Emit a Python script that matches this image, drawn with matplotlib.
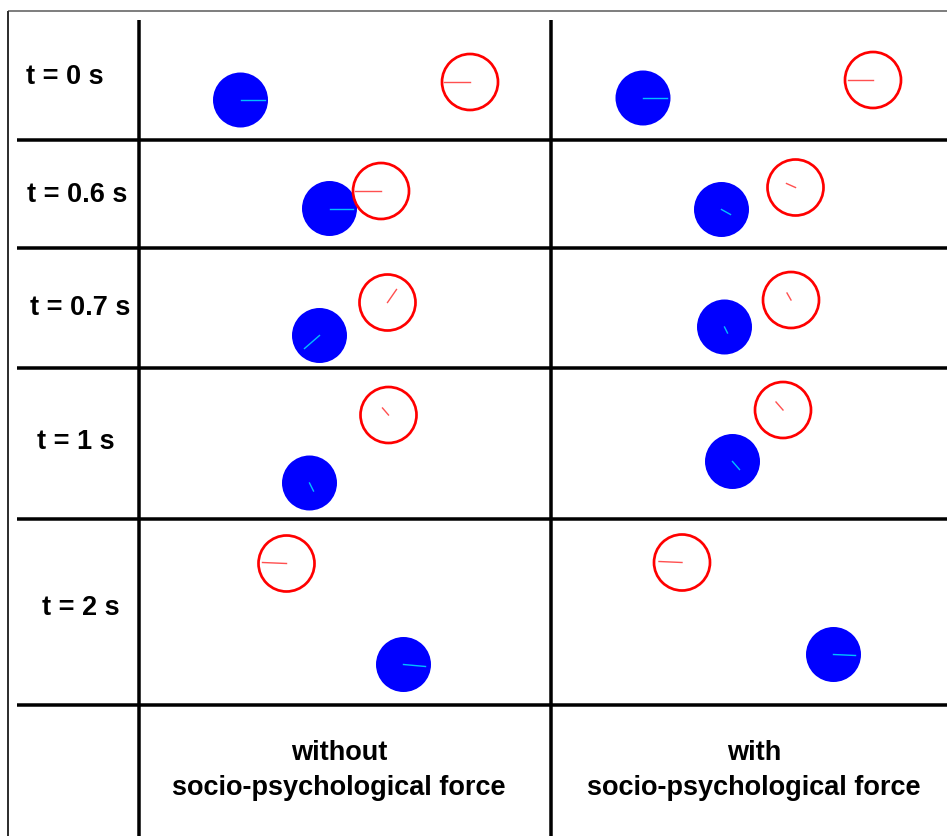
import matplotlib.pyplot as plt
from matplotlib.patches import Circle

plt.rcParams['font.family'] = ['Liberation Sans', 'DejaVu Sans']

# row labels and their positions (pixel space, y down)
time_labels = ['t = 0 s', 't = 0.6 s', 't = 0.7 s', 't = 1 s', 't = 2 s']
label_x = [65, 77, 80, 76, 81]
label_y = [77, 195, 308, 442, 608]

col_top = ['without', 'with']
col_bottom = ['socio-psychological force', 'socio-psychological force']
col_x = [339, 754]

# agent positions and heading vectors, panel without force
blue_without = [(240.5, 100), (329.5, 208.5), (319.5, 335.5), (309.5, 483), (403.5, 664.5)]
blue_head_without = [(24, 0), (23, 0), (-15, 13), (4, 8), (22, 2)]
red_without = [(470, 82), (381, 191), (387.5, 302.5), (388.5, 415), (286.5, 563.5)]
red_head_without = [(-26, 0), (-26, 0), (9, -13), (-6, -7), (-24, -1)]

# panel with force
blue_with = [(643, 98), (721.5, 209.5), (724.5, 327), (732.5, 461.5), (833.5, 654.5)]
blue_head_with = [(24, 0), (9, 5), (3, 6), (7, 8), (22, 1)]
red_with = [(873, 80), (795.5, 187.5), (791, 300), (783, 410), (682, 562.5)]
red_head_with = [(-25, 0), (-9, -4), (-4, -7), (-7, -8), (-23, -1)]

row_lines = [140, 248, 368, 519, 705]
col_lines = [139, 551]

W, H = 947, 836
fig = plt.figure(figsize=(W / 100, H / 100), dpi=100)
ax = fig.add_axes([0, 0, 1, 1])
ax.set_xlim(0, W)
ax.set_ylim(H, 0)
ax.axis('off')

px = 0.72  # points per pixel

# outer frame
ax.plot([8, W], [11, 11], color='#808080', lw=2 * px, solid_capstyle='butt')
ax.plot([8, 8], [11, H], color='#303030', lw=2 * px, solid_capstyle='butt')

for y in row_lines:
    ax.plot([17, W], [y, y], color='black', lw=3.5 * px, solid_capstyle='butt')
for x in col_lines:
    ax.plot([x, x], [20, H], color='black', lw=3.5 * px, solid_capstyle='butt')


def draw_agents(blue, blue_head, red, red_head):
    for (x, y), (dx, dy) in zip(blue, blue_head):
        ax.add_patch(Circle((x, y), 27.5, facecolor='#0000ff', edgecolor='none'))
        ax.plot([x, x + dx], [y, y + dy], color='#00c0ff', lw=1.4 * px)
    for (x, y), (dx, dy) in zip(red, red_head):
        ax.add_patch(Circle((x, y), 28, facecolor='none', edgecolor='#ff0000', lw=2.7 * px))
        ax.plot([x, x + dx], [y, y + dy], color='#ff5050', lw=1.4 * px)


draw_agents(blue_without, blue_head_without, red_without, red_head_without)
draw_agents(blue_with, blue_head_with, red_with, red_head_with)

for lab, x, y in zip(time_labels, label_x, label_y):
    ax.text(x, y, lab, ha='center', va='center', fontsize=19.5, fontweight='bold')

for top, bottom, x in zip(col_top, col_bottom, col_x):
    ax.text(x, 753, top, ha='center', va='center', fontsize=19.5, fontweight='bold')
    ax.text(x, 788, bottom, ha='center', va='center', fontsize=19.5, fontweight='bold')

fig.savefig('out.png', dpi=100)
